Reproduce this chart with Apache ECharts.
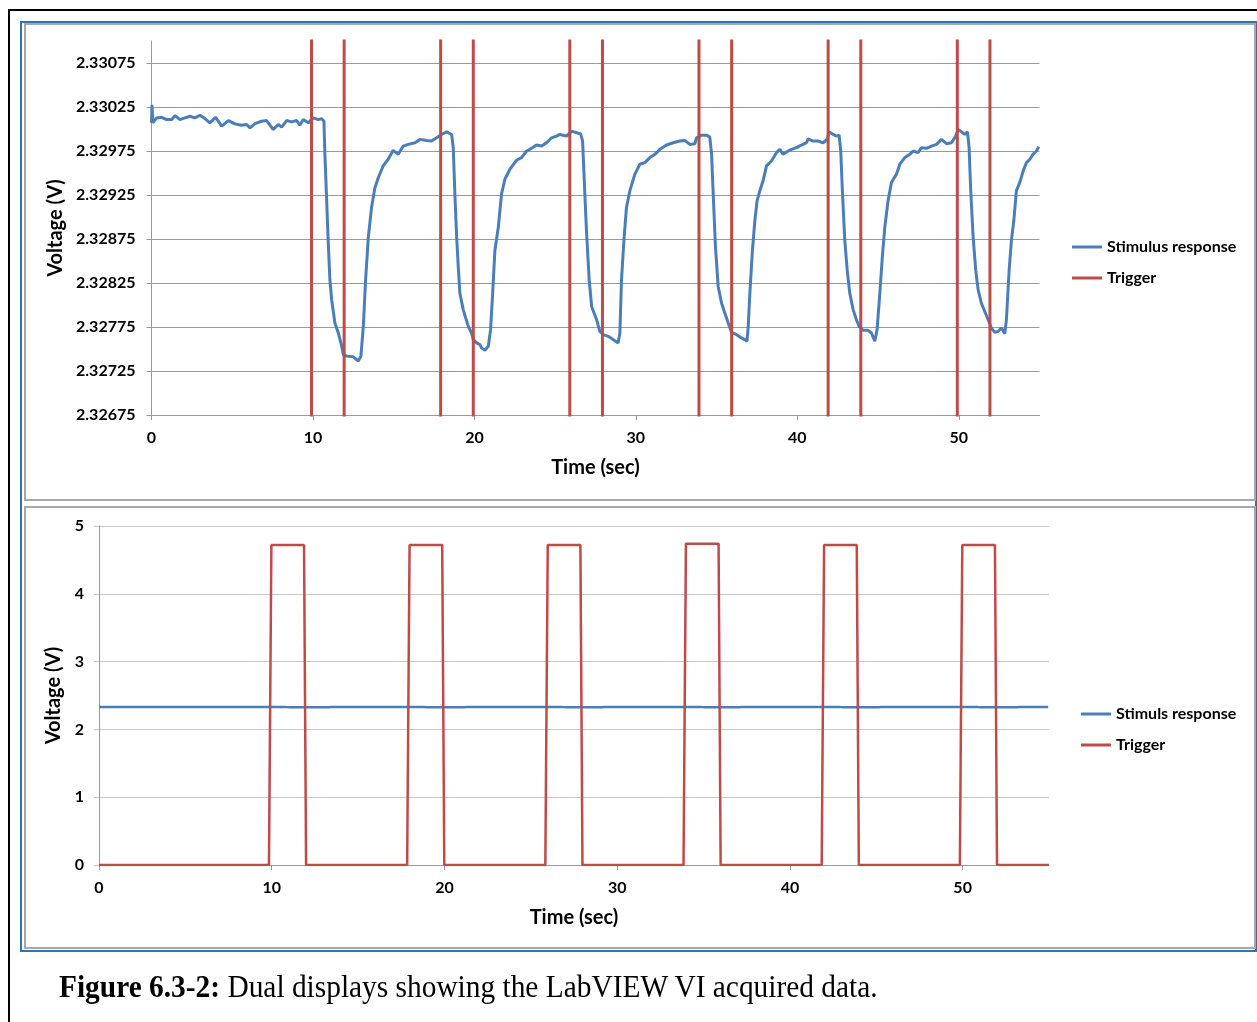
<!DOCTYPE html>
<html>
<head>
<meta charset="utf-8">
<script src="https://cdn.jsdelivr.net/npm/echarts@6/dist/echarts.min.js"></script>
<style>
  html, body { margin: 0; padding: 0; background: #fff; }
  body { width: 1257px; height: 1022px; position: relative; overflow: hidden; }
  .box { position: absolute; box-sizing: border-box; }
  #outer { left: 8px; top: 9px; width: 1300px; height: 1100px; border: 2px solid #000; }
  #blue { left: 20px; top: 21px; width: 1237px; height: 931px; border: 2px solid #2f74b5; }
  #p1 { left: 24px; top: 23px; width: 1232px; height: 478px; border: 2px solid #a8a8a8; }
  #p2 { left: 24px; top: 506px; width: 1232px; height: 443px; border: 2px solid #a8a8a8; }
  #main { position: absolute; left: 0; top: 0; width: 1257px; height: 1022px; }
  #caption { position: absolute; left: 59px; top: 969px; font-family: 'Liberation Serif', 'Times New Roman', serif;
    font-size: 31px; white-space: nowrap; color: #000; transform: scaleX(0.948); transform-origin: 0 0; }
</style>
</head>
<body>
<div class="box" id="outer"></div>
<div class="box" id="blue"></div>
<div class="box" id="p1"></div>
<div class="box" id="p2"></div>
<div id="main"></div>
<div id="caption"><b>Figure 6.3-2:</b> Dual displays showing the LabVIEW VI acquired data.</div>
<script>
// stimulus response (V) vs time (sec)
var respTime = [
  0.00, 0.03, 0.08, 0.32, 0.63, 0.94, 1.25, 1.46, 1.76, 2.07, 2.38, 2.69, 3.00, 3.31, 3.62, 3.97,
  4.35, 4.76, 5.17, 5.58, 5.89, 6.10, 6.41, 6.82, 7.13, 7.54, 7.85, 8.06, 8.37, 8.68, 8.99, 9.19,
  9.40, 9.71, 10.02, 10.33, 10.54, 10.68, 10.74, 10.85, 10.95, 11.05, 11.16, 11.36, 11.57, 11.78,
  11.88, 12.09, 12.50, 12.81, 12.97, 13.12, 13.26, 13.43, 13.63, 13.84, 14.05, 14.35, 14.66, 14.97,
  15.28, 15.59, 15.90, 16.32, 16.63, 17.04, 17.35, 17.66, 17.97,
  18.28, 18.59, 18.69, 18.79, 18.90, 19.00, 19.10, 19.31, 19.62, 19.82, 19.93, 20.14, 20.34, 20.44,
  20.65, 20.86, 21.00, 21.13, 21.27, 21.48, 21.68, 21.89, 22.20, 22.61, 22.92, 23.23, 23.54, 23.85,
  24.16, 24.47, 24.78, 25.09, 25.29, 25.71, 26.02, 26.33, 26.58, 26.70, 26.84, 26.95, 27.11, 27.26,
  27.57, 27.77, 27.98, 28.29, 28.59, 28.90, 29.01, 29.11, 29.26, 29.42, 29.63, 29.94, 30.25, 30.56,
  30.87, 31.18, 31.49, 31.90, 32.31, 32.72, 33.03, 33.34, 33.65, 33.76, 34.07, 34.38, 34.58, 34.69,
  34.79, 34.93, 35.10, 35.31, 35.51, 35.72, 35.93, 36.24, 36.54, 36.75, 36.88,
  36.96, 37.06, 37.22, 37.37, 37.51, 37.68, 37.88, 38.09, 38.40, 38.71, 38.92, 39.12, 39.43, 39.64,
  39.95, 40.26, 40.57, 40.67, 40.98, 41.29, 41.60, 41.85, 41.97, 42.22, 42.43, 42.59, 42.69, 42.80,
  42.94, 43.09, 43.25, 43.46, 43.66, 43.83, 44.07, 44.38, 44.59, 44.80, 44.94, 45.11, 45.28, 45.42,
  45.62, 45.83, 46.14, 46.35, 46.66, 46.97, 47.17, 47.48, 47.69, 48.00, 48.31, 48.62, 48.93, 49.24,
  49.55, 49.81, 49.96, 50.17, 50.37, 50.54, 50.64, 50.74, 50.89, 51.05, 51.20, 51.40, 51.61, 51.82,
  52.02, 52.23, 52.44, 52.64, 52.85, 52.95, 53.12, 53.26, 53.41, 53.57, 53.78, 53.99, 54.19, 54.40,
  54.60, 54.81, 54.95
];
var respVolt = [
  2.330070, 2.330276, 2.330070, 2.330126, 2.330133, 2.330107, 2.330107, 2.330152, 2.330107, 2.330126,
  2.330145, 2.330126, 2.330156, 2.330118, 2.330070, 2.330133, 2.330032, 2.330096, 2.330058, 2.330043,
  2.330051, 2.330013, 2.330062, 2.330088, 2.330096, 2.329994, 2.330051, 2.330021, 2.330096, 2.330081,
  2.330096, 2.330043, 2.330107, 2.330070, 2.330126, 2.330107, 2.330118, 2.330088, 2.329712, 2.329186,
  2.328697, 2.328284, 2.328058, 2.327795, 2.327682, 2.327532, 2.327438, 2.327419, 2.327411, 2.327362,
  2.327419, 2.327757, 2.328284, 2.328772, 2.329111, 2.329336, 2.329449, 2.329581, 2.329656, 2.329758,
  2.329712, 2.329806, 2.329825, 2.329844, 2.329882, 2.329870, 2.329863, 2.329900, 2.329938,
  2.329968, 2.329938, 2.329788, 2.329261, 2.328772, 2.328434, 2.328133, 2.327945, 2.327757, 2.327682,
  2.327607, 2.327569, 2.327550, 2.327513, 2.327486, 2.327532, 2.327720, 2.328133, 2.328622, 2.328885,
  2.329261, 2.329430, 2.329543, 2.329645, 2.329675, 2.329750, 2.329780, 2.329818, 2.329806, 2.329844,
  2.329900, 2.329919, 2.329938, 2.329919, 2.329976, 2.329957, 2.329945, 2.329863, 2.329261, 2.328810,
  2.328284, 2.327983, 2.327832, 2.327701, 2.327663, 2.327644, 2.327607, 2.327569, 2.327682, 2.328284,
  2.328735, 2.329111, 2.329299, 2.329487, 2.329600, 2.329618, 2.329675, 2.329712, 2.329769, 2.329818,
  2.329844, 2.329863, 2.329870, 2.329825, 2.329833, 2.329900, 2.329930, 2.329930, 2.329908, 2.329712,
  2.329261, 2.328660, 2.328208, 2.328020, 2.327908, 2.327795, 2.327689, 2.327663, 2.327626, 2.327607,
  2.327588,
  2.327757, 2.328133, 2.328622, 2.328960, 2.329186, 2.329299, 2.329412, 2.329581, 2.329637, 2.329731,
  2.329769, 2.329712, 2.329750, 2.329769, 2.329788, 2.329818, 2.329844, 2.329889, 2.329863, 2.329863,
  2.329844, 2.329882, 2.329968, 2.329938, 2.329919, 2.329930, 2.329750, 2.329261, 2.328735, 2.328396,
  2.328133, 2.327945, 2.327832, 2.327757, 2.327712, 2.327712, 2.327682, 2.327588, 2.327720, 2.328133,
  2.328584, 2.328885, 2.329186, 2.329393, 2.329487, 2.329600, 2.329675, 2.329712, 2.329750, 2.329731,
  2.329788, 2.329780, 2.329806, 2.329825, 2.329882, 2.329833, 2.329844, 2.329919, 2.329994, 2.329968,
  2.329938, 2.329968, 2.329788, 2.329299, 2.328772, 2.328396, 2.328171, 2.328020, 2.327926, 2.327832,
  2.327738, 2.327689, 2.327701, 2.327738, 2.327674, 2.327832, 2.328396, 2.328735, 2.328960, 2.329299,
  2.329393, 2.329524, 2.329618, 2.329656, 2.329712, 2.329750, 2.329799
];
// trigger pulses (V) vs time (sec)
var trigTime = [0, 9.84, 9.98, 11.87, 11.99, 17.84, 17.98, 19.87, 19.99, 25.84, 25.98, 27.87, 27.99,
  33.84, 33.98, 35.87, 35.99, 41.84, 41.98, 43.87, 43.99, 49.84, 49.98, 51.87, 51.99, 55];
var trigVolt = [0, 0, 4.72, 4.72, 0, 0, 4.72, 4.72, 0, 0, 4.72, 4.72, 0,
  0, 4.74, 4.74, 0, 0, 4.72, 4.72, 0, 0, 4.72, 4.72, 0, 0];

var timeRange = [0, 55];
var topVoltRange = [2.32675, 2.331];
var bottomVoltRange = [0, 5];

function pairs(xs, ys) {
  return xs.map(function (x, i) { return [x, ys[i]]; });
}

var blue = '#4a7ebb';
var red = '#be4b48';
var font = 'Lato, "Open Sans", sans-serif';
var lbl = { color: '#000', fontFamily: font, fontWeight: 'bold', fontSize: 16 };
var nameStyle = { color: '#000', fontFamily: font, fontWeight: 'bold', fontSize: 20 };
// plain line as legend key, no marker
var lineIcon = 'path://M0,0L0,0M0,5.5L30,5.5L30,8.5L0,8.5ZM30,14L30,14';

function timeAxis(grid) {
  return {
    gridIndex: grid, type: 'value', min: timeRange[0], max: timeRange[1], interval: 10,
    name: 'Time (sec)', nameLocation: 'middle', nameGap: 43, nameTextStyle: nameStyle,
    axisLine: { show: true, onZero: false, lineStyle: { color: '#9a9a9a', width: 1 } },
    axisTick: { show: true, length: 5, lineStyle: { color: '#9a9a9a' } },
    axisLabel: Object.assign({ margin: 15, showMaxLabel: false }, lbl),
    splitLine: { show: false }
  };
}

function legendAt(names, x, y) {
  return {
    data: names.map(function (n) { return { name: n, icon: lineIcon }; }),
    orient: 'vertical', left: x, top: y, padding: 0,
    itemWidth: 30, itemHeight: 14, itemGap: 15, textStyle: lbl, selectedMode: false
  };
}

var myChart = echarts.init(document.getElementById('main'));
var option = {
  animation: false,
  grid: [
    { left: 151.5, top: 41, width: 888, height: 374 },
    { left: 99, top: 526, width: 950, height: 339 }
  ],
  xAxis: [timeAxis(0), timeAxis(1)],
  yAxis: [
    {
      gridIndex: 0, type: 'value', min: topVoltRange[0], max: topVoltRange[1], interval: 0.0005,
      name: 'Voltage (V)', nameLocation: 'middle', nameGap: 82, nameTextStyle: nameStyle,
      axisLine: { show: true, lineStyle: { color: '#9a9a9a', width: 1 } },
      axisTick: { show: true, length: 5, lineStyle: { color: '#9a9a9a' } },
      axisLabel: Object.assign({
        margin: 16, showMaxLabel: false,
        formatter: function (v) { return v.toFixed(5); }
      }, lbl),
      splitLine: { show: true, showMaxLine: false, lineStyle: { color: '#9a9a9a', width: 1 } }
    },
    {
      gridIndex: 1, type: 'value', min: bottomVoltRange[0], max: bottomVoltRange[1], interval: 1,
      name: 'Voltage (V)', nameLocation: 'middle', nameGap: 33, nameTextStyle: nameStyle,
      axisLine: { show: true, lineStyle: { color: '#9a9a9a', width: 1 } },
      axisTick: { show: true, length: 5, lineStyle: { color: '#c8c8c8' } },
      axisLabel: Object.assign({ margin: 15 }, lbl),
      splitLine: { show: true, lineStyle: { color: '#c8c8c8', width: 1 } }
    }
  ],
  legend: [
    legendAt(['Stimulus response', 'Trigger'], 1072, 239),
    legendAt(['Stimuls response', 'Trigger'], 1081, 706)
  ],
  series: [
    {
      name: 'Stimulus response', type: 'line', xAxisIndex: 0, yAxisIndex: 0, symbol: 'none',
      color: blue, lineStyle: { width: 3, color: blue }, data: pairs(respTime, respVolt)
    },
    {
      name: 'Trigger', type: 'line', xAxisIndex: 0, yAxisIndex: 0, symbol: 'none', clip: true,
      color: red, lineStyle: { width: 3, color: red }, data: pairs(trigTime, trigVolt)
    },
    {
      name: 'Stimuls response', type: 'line', xAxisIndex: 1, yAxisIndex: 1, symbol: 'none',
      color: blue, lineStyle: { width: 2.5, color: blue }, data: pairs(respTime, respVolt)
    },
    {
      name: 'Trigger', type: 'line', xAxisIndex: 1, yAxisIndex: 1, symbol: 'none',
      color: red, lineStyle: { width: 2.5, color: red }, data: pairs(trigTime, trigVolt)
    }
  ]
};
myChart.setOption(option);
</script>
</body>
</html>
